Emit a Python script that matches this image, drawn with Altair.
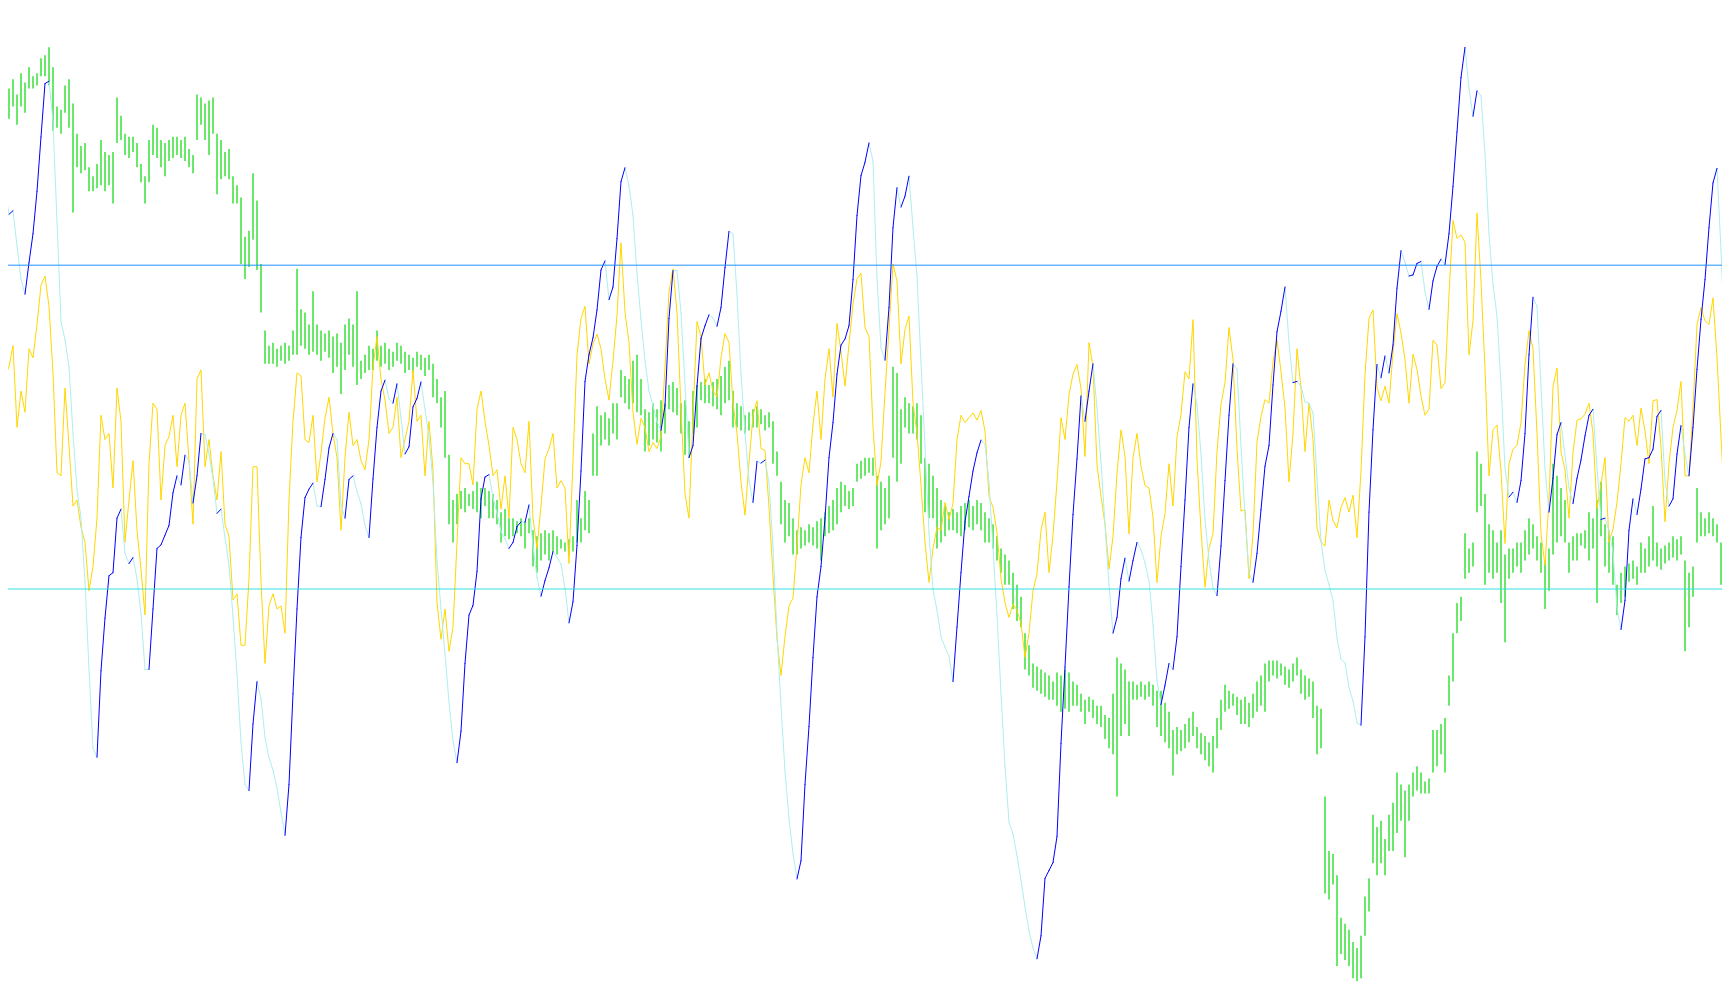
import altair as alt
import pandas as pd

# ---- level lines of the oscillator ----
LEVEL_HIGH = 628
LEVEL_LOW = 93

# ---- yellow signal line (three stretches of the chart) ----
signal_a = [410, 445, 460, 495, 360, 420, 385, 490, 475, 530,
            595, 610, 560, 450, 285, 280, 425, 330, 230, 240,
            195, 170, 90, 130, 210, 380, 340, 350, 260, 425,
            370, 170, 240, 305, 190, 125, 50, 300, 400, 390,
            240, 330, 345, 380, 295, 380, 400, 305, 200, 440,
            455, 295, 340, 280, 240, 320, 200, 180, 75, 85,
            0, 0, 110, 295, 295, 105, -30, 65, 85, 60,
            65, 20, 240, 370, 450, 445, 340, 335, 380, 270,
            318, 375, 410, 350, 310, 190, 310, 385, 330, 340,
            305, 290, 340, 460, 510, 440, 405, 350, 360, 410,
            310, 340, 370, 455, 370, 380, 280, 370, 290, 70,
            10, 60, -10, 30, 170, 310, 300, 300, 265, 390,
            420, 370, 330, 280, 290, 225, 280, 210, 360, 340,
            300, 285, 370, 210, 160, 230, 308, 325, 350, 260,
            272, 260, 135, 305, 480]
signal_b = [540, 560, 465, 498, 514, 490, 440, 405, 470, 545,
            665, 550, 500, 385, 332, 375, 360, 320, 335, 325,
            345, 460, 585, 622, 550, 390, 250, 210, 380, 535,
            510, 430, 450, 420, 410, 475, 515, 500, 400, 350,
            270, 215, 302, 380, 404, 325, 322, 228, 115, 10,
            -50, 15, 65, 78, 165, 265, 310, 285, 365, 420,
            340, 440, 490, 410, 532, 485, 428, 498, 564, 605,
            615, 525, 510, 360, 264, 304, 418, 522, 630, 602,
            465, 522, 544, 400, 350, 265, 170, 104, 160, 195,
            190, 236, 208, 234, 340, 380, 368, 376, 384, 372,
            388, 354, 246, 228, 186, 110, 70, 46, 68, 58,
            36, -20, 20, 90, 118, 190, 220, 120, 182, 270,
            376, 340, 414, 448, 464, 424, 312, 500, 460, 298,
            246, 200, 126, 180, 284, 356, 312, 184, 310, 350,
            296, 264, 260, 212, 104]
signal_c = [180, 218, 300, 230, 344, 382, 452, 440, 538, 308,
            190, 96, 160, 184, 320, 398, 434, 525, 472, 324,
            222, 224, 110, 182, 336, 378, 406, 400, 468, 504,
            452, 392, 270, 350, 490, 424, 320, 400, 340, 194,
            170, 164, 240, 206, 194, 228, 244, 220, 248, 178,
            288, 448, 540, 554, 426, 404, 428, 400, 484, 548,
            516, 472, 400, 481, 456, 412, 380, 390, 504, 496,
            424, 434, 580, 702, 672, 678, 666, 480, 536, 714,
            602, 456, 280, 356, 364, 288, 168, 300, 324, 330,
            368, 464, 520, 490, 350, 184, 132, 240, 428, 458,
            320, 290, 210, 318, 372, 374, 382, 400, 350, 226,
            266, 310, 170, 192, 236, 300, 376, 370, 380, 330,
            392, 354, 300, 404, 406, 328, 204, 300, 360, 388,
            436, 280, 280, 392, 530, 558, 536, 530, 574, 476,
            344, 218, 350]

# ---- main oscillator line (blue when rising, pale when falling) ----
main_a = [810, 752, 712, 718, 660, 605, 580, 632, 680, 750,
          840, 928, 932, 865, 700, 535, 505, 460, 350, 258,
          210, 105, -40, -170, -185, -42, 45, 115, 120, 210,
          225, 152, 135, 145, 110, 52, -40, -40, 60, 160,
          166, 182, 198, 252, 280, 265, 314, 305, 235, 280,
          350, 348, 316, 276, 218, 225, 178, 132, 48, -48,
          -160, -230, -240, -130, -60, -88, -152, -186, -206, -236,
          -276, -314, -230, -80, 60, 178, 244, 258, 268, 230,
          229, 274, 326, 350, 340, 232, 210, 274, 280, 254,
          234, 198, 178, 275, 360, 420, 438, 407, 400, 432,
          376, 316, 328, 394, 408, 435, 390, 345, 268, 140,
          60, -14, -94, -158, -194, -142, -30, 50, 66, 122,
          242, 278, 282, 244, 218, 188, 176, 160, 170, 196,
          204, 203, 232, 164, 112, 81, 107, 128, 155, 145,
          134, 94, 37, 72, 165]
main_b = [288, 436, 480, 508, 554, 620, 635, 571, 592, 672,
          766, 789, 759, 710, 614, 538, 470, 420, 396, 370,
          355, 396, 540, 619, 619, 550, 432, 310, 330, 428,
          507, 528, 546, 541, 527, 558, 624, 684, 680, 580,
          448, 352, 272, 236, 304, 301, 306, 268, 162, 20,
          -100, -208, -286, -344, -386, -356, -230, -134, -20, 80,
          130, 210, 310, 368, 448, 496, 506, 528, 604, 710,
          776, 798, 830, 800, 606, 492, 471, 558, 690, 756,
          724, 742, 775, 690, 610, 466, 328, 186, 92, 58,
          14, -3, -18, -60, 30, 120, 204, 246, 288, 318,
          339, 332, 270, 160, 50, -80, -200, -292, -312, -348,
          -388, -432, -472, -500, -518, -480, -385, -372, -359, -316,
          -162, -36, 96, 216, 308, 412, 370, 420, 465, 392,
          302, 200, 100, 20, 46, 110, 144, 106, 140, 170,
          158, 136, 106, 34, -58]
main_c = [-98, -66, -30, -40, 14, 130, 240, 360, 432, 398,
          316, 208, 140, 95, 82, 164, 272, 380, 465, 456,
          330, 212, 120, 104, 152, 224, 296, 330, 430, 518,
          552, 592, 500, 434, 436, 428, 402, 400, 384, 276,
          172, 124, 100, 74, 12, -23, -29, -70, -92, -128,
          -132, 14, 220, 356, 464, 442, 478, 450, 496, 590,
          652, 633, 610, 612, 631, 634, 584, 555, 602, 626,
          638, 629, 680, 758, 848, 938, 988, 920, 874, 916,
          908, 812, 680, 596, 544, 432, 292, 245, 253, 236,
          272, 350, 480, 575, 560, 428, 292, 220, 276, 348,
          368, 314, 260, 234, 276, 306, 346, 380, 390, 294,
          208, 210, 190, 154, 62, 26, 74, 190, 242, 216,
          258, 308, 310, 324, 378, 388, 272, 230, 242, 316,
          363, 316, 280, 360, 456, 538, 604, 690, 764, 788,
          652, 492, 420]

# ---- price bars: highs ----
high_a = [900, 915, 920, 935, 910, 945, 930, 955, 940, 945,
          970, 975, 988, 955, 890, 885, 925, 935, 895, 845,
          825, 830, 790, 775, 795, 835, 815, 810, 815, 905,
          875, 845, 840, 840, 830, 795, 775, 835, 860, 855,
          835, 830, 835, 840, 840, 835, 840, 820, 810, 910,
          905, 895, 900, 905, 845, 835, 815, 820, 775, 760,
          740, 675, 685, 780, 735, 630, 520, 495, 500, 490,
          495, 500, 495, 520, 622, 555, 550, 530, 585, 530,
          520, 515, 520, 510, 515, 500, 530, 540, 530, 585,
          470, 480, 495, 490, 520, 495, 500, 490, 485, 500,
          495, 485, 480, 475, 485, 480, 475, 480, 465, 440,
          410, 420, 315, 240, 250, 255, 260, 250, 255, 270,
          260, 260, 255, 250, 240, 220, 225, 210, 210, 205,
          210, 205, 210, 190, 180, 185, 190, 185, 190, 180,
          175, 170, 175, 180, 240]
high_b = [210, 255, 240, 350, 395, 380, 385, 375, 400, 400,
          455, 445, 440, 470, 480, 440, 390, 385, 400, 390,
          405, 400, 430, 435, 425, 400, 405, 370, 420, 430,
          435, 440, 430, 435, 440, 445, 460, 470, 420, 400,
          395, 380, 385, 390, 395, 390, 380, 385, 370, 320,
          270, 240, 235, 210, 190, 195, 190, 200, 195, 205,
          210, 220, 230, 240, 260, 270, 265, 255, 260, 300,
          305, 310, 310, 310, 280, 270, 260, 280, 460, 450,
          390, 410, 400, 395, 400, 380, 310, 300, 280, 260,
          240, 230, 220, 225, 220, 230, 235, 240, 230, 240,
          235, 220, 210, 200, 180, 160, 150, 140, 120, 100,
          80, 20, 0, -30, -35, -40, -45, -50, -60, -45,
          -50, -40, -45, -60, -65, -80, -90, -85, -90, -100,
          -100, -115, -120, -80, -20, -30, -40, -60, -60, -65,
          -60, -65, -60, -65, -75]
high_c = [-75, -95, -110, -140, -135, -140, -130, -120, -110, -135,
          -145, -150, -160, -150, -120, -90, -65, -75, -80, -85,
          -90, -85, -95, -80, -60, -50, -30, -25, -25, -25,
          -30, -35, -40, -30, -20, -40, -50, -55, -60, -100,
          -105, -250, -340, -345, -380, -450, -460, -470, -490, -500,
          -480, -415, -385, -280, -300, -290, -320, -280, -260, -210,
          -230, -240, -230, -210, -200, -210, -225, -220, -140, -140,
          -130, -120, -50, 20, 70, 80, 185, 160, 170, 320,
          300, 250, 200, 190, 170, 190, 150, 160, 160, 170,
          170, 190, 210, 200, 180, 170, 140, 160, 300, 280,
          260, 240, 170, 180, 185, 185, 190, 220, 210, 240,
          270, 200, 190, 180, 100, 120, 130, 135, 140, 130,
          170, 160, 180, 230, 170, 160, 165, 170, 180, 175,
          180, 140, 120, 130, 260, 220, 210, 220, 210, 200,
          170, 120, 115]

# ---- price bars: lows ----
low_a = [840, 830, 870, 890, 860, 890, 880, 920, 920, 925,
         940, 940, 925, 850, 855, 845, 880, 855, 715, 790,
         780, 785, 750, 750, 755, 760, 750, 760, 730, 830,
         835, 810, 805, 815, 790, 765, 730, 765, 810, 805,
         790, 775, 800, 805, 810, 805, 800, 790, 780, 835,
         860, 835, 810, 845, 745, 770, 775, 770, 730, 730,
         630, 605, 625, 670, 620, 550, 465, 465, 465, 460,
         470, 465, 470, 480, 480, 495, 490, 480, 485, 480,
         470, 485, 475, 450, 460, 415, 455, 480, 460, 430,
         440, 450, 455, 455, 470, 460, 465, 455, 460, 470,
         465, 450, 455, 450, 460, 455, 445, 455, 410, 400,
         360, 310, 200, 170, 200, 225, 220, 230, 225, 220,
         210, 230, 210, 210, 200, 170, 180, 175, 180, 185,
         180, 160, 185, 130, 120, 140, 150, 140, 155, 150,
         160, 155, 150, 155, 170]
low_b = [170, 190, 185, 280, 280, 330, 340, 330, 350, 340,
         410, 400, 390, 400, 385, 380, 320, 330, 340, 335,
         320, 350, 390, 385, 380, 350, 315, 310, 350, 360,
         405, 400, 400, 395, 390, 380, 400, 405, 360, 360,
         355, 350, 355, 360, 360, 365, 355, 360, 300, 280,
         200, 170, 180, 150, 150, 160, 165, 170, 165, 160,
         140, 180, 185, 190, 200, 220, 230, 225, 230, 270,
         275, 280, 285, 280, 160, 190, 200, 210, 310, 270,
         300, 360, 350, 350, 340, 300, 220, 210, 210, 160,
         170, 180, 190, 190, 185, 180, 190, 195, 190, 200,
         190, 170, 170, 160, 140, 120, 100, 100, 60, 40,
         30, -40, -50, -70, -75, -80, -85, -90, -90, -100,
         -110, -105, -110, -100, -100, -110, -130, -110, -120, -130,
         -135, -155, -170, -180, -250, -150, -130, -150, -90, -90,
         -85, -90, -85, -100, -135]
low_c = [-150, -160, -170, -215, -180, -175, -170, -160, -150, -170,
         -180, -190, -200, -210, -170, -140, -110, -105, -100, -115,
         -130, -130, -135, -120, -110, -100, -110, -60, -50, -55,
         -50, -65, -70, -60, -50, -80, -90, -85, -120, -180,
         -170, -410, -420, -395, -530, -510, -520, -530, -550, -555,
         -550, -480, -440, -360, -380, -360, -380, -340, -340, -310,
         -290, -350, -290, -250, -240, -245, -245, -245, -210, -200,
         -180, -210, -100, -60, 20, 40, 110, 120, 130, 220,
         230, 100, 120, 110, 120, 70, 5, 110, 120, 130,
         120, 140, 150, 160, 140, 120, 60, 90, 150, 170,
         180, 170, 120, 140, 140, 165, 160, 140, 160, 70,
         180, 130, 120, 100, 50, 70, 80, 105, 110, 100,
         120, 120, 130, 140, 130, 125, 135, 140, 145, 140,
         150, -10, 30, 80, 170, 180, 180, 185, 180, 170,
         100, 70, 80]

signal = signal_a + signal_b + signal_c
main = main_a + main_b + main_c
high = high_a + high_b + high_c
low = low_a + low_b + low_c
n = min(len(signal), len(main), len(high), len(low))

bars = pd.DataFrame({"bar": list(range(n)), "high": high[:n], "low": low[:n]})
sig = pd.DataFrame({"bar": list(range(n)), "signal": signal[:n]})

seg_rows = []
for i in range(n - 1):
    seg_rows.append({"bar": i, "bar2": i + 1, "v": main[i], "v2": main[i + 1],
                     "trend": "up" if main[i + 1] > main[i] else "down"})
segs = pd.DataFrame(seg_rows)
segs_down = segs[segs["trend"] == "down"]
segs_up = segs[segs["trend"] == "up"]

levels = pd.DataFrame({"level": [LEVEL_HIGH, LEVEL_LOW], "name": ["high", "low"]})

xs = alt.Scale(domain=[1.75, 430.25], nice=False, zero=False)
ys = alt.Scale(domain=[-566.2, 1052.9], nice=False, zero=False)

green = alt.Chart(bars).mark_rule(color="#2ADF2A", strokeWidth=1.4, clip=True).encode(
    x=alt.X("bar:Q", scale=xs, axis=None),
    y=alt.Y("low:Q", scale=ys, axis=None),
    y2="high:Q",
)

yellow = alt.Chart(sig).mark_line(color="#FFD700", strokeWidth=1, clip=True).encode(
    x=alt.X("bar:Q", scale=xs, axis=None),
    y=alt.Y("signal:Q", scale=ys, axis=None),
)

pale = alt.Chart(segs_down).mark_rule(color="#AFEEEE", strokeWidth=1, clip=True, strokeCap="round").encode(
    x=alt.X("bar:Q", scale=xs, axis=None),
    x2="bar2:Q",
    y=alt.Y("v:Q", scale=ys, axis=None),
    y2="v2:Q",
)

blue = alt.Chart(segs_up).mark_rule(color="#0000FF", strokeWidth=1, clip=True, strokeCap="round").encode(
    x=alt.X("bar:Q", scale=xs, axis=None),
    x2="bar2:Q",
    y=alt.Y("v:Q", scale=ys, axis=None),
    y2="v2:Q",
)

lv = alt.Chart(levels).mark_rule(strokeWidth=1).encode(
    y=alt.Y("level:Q", scale=ys, axis=None),
    color=alt.Color("name:N", scale=alt.Scale(domain=["high", "low"], range=["#1E90FF", "#30E0E0"]), legend=None),
)

chart = alt.layer(green, yellow, pale, blue, lv).properties(
    width=1714, height=980, padding=0,
    autosize=alt.AutoSizeParams(type="none"),
    background="white",
).configure_view(stroke=None)

chart.save("out.html", embed_options={"renderer": "svg", "actions": False})
